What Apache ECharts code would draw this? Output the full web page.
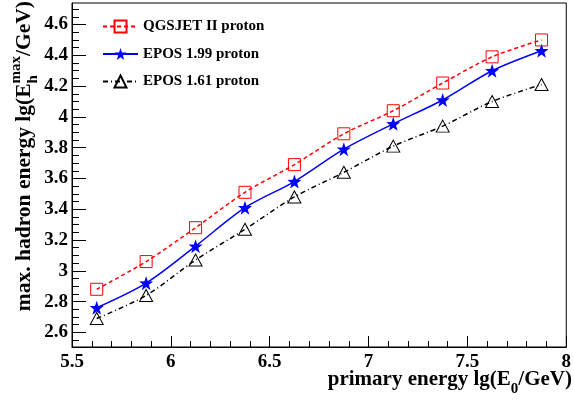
<!DOCTYPE html>
<html>
<head>
<meta charset="utf-8">
<script src="https://cdn.jsdelivr.net/npm/echarts@6/dist/echarts.min.js"></script>
<style>
  html, body { margin: 0; padding: 0; background: #fff; }
  #chart { width: 574px; height: 400px; }
</style>
</head>
<body>
<div id="chart"></div>
<script>
// primary energy lg(E0/GeV), bin centres
var energy = [5.625, 5.875, 6.125, 6.375, 6.625, 6.875, 7.125, 7.375, 7.625, 7.875];
// max. hadron energy lg(Eh_max/GeV)
var qgsjet = [2.88, 3.06, 3.28, 3.51, 3.69, 3.89, 4.04, 4.22, 4.39, 4.50];
var epos199 = [2.76, 2.92, 3.16, 3.41, 3.58, 3.79, 3.955, 4.11, 4.30, 4.43];
var epos161 = [2.69, 2.84, 3.07, 3.27, 3.48, 3.64, 3.81, 3.94, 4.10, 4.21];
var seriesNames = ['QGSJET II proton', 'EPOS 1.99 proton', 'EPOS 1.61 proton'];
var yTicks = [2.6, 2.8, 3, 3.2, 3.4, 3.6, 3.8, 4, 4.2, 4.4, 4.6];

var yMinor = [];
for (var k = 51; k <= 94; k++) {
  if (k % 4 !== 0) yMinor.push(k * 0.05);
}

var FONT = '"Liberation Serif", "Times New Roman", serif';
var STAR = 'path://M0,-10L2.35,-3.24L9.51,-3.09L3.8,1.24L5.88,8.09L0,4L-5.88,8.09L-3.8,1.24L-9.51,-3.09L-2.35,-3.24Z';

function pairs(ys) {
  return energy.map(function (x, i) { return [x, ys[i]]; });
}

// lay out a title with sub/superscripts, measured with a canvas
var ctx = document.createElement('canvas').getContext('2d');
function textWidth(t, size) {
  ctx.font = 'bold ' + size + 'px ' + FONT;
  return ctx.measureText(t).width;
}
function titleParts(parts) {
  var x = 0, kids = [], stackW = 0;
  parts.forEach(function (p) {
    var w = textWidth(p.t, p.s);
    kids.push({
      type: 'text', x: x, y: (p.dy || 0) - 0.3 * p.s,
      style: { text: p.t, fill: '#000', fontFamily: FONT, fontWeight: 'bold', fontSize: p.s,
               align: 'left', verticalAlign: 'middle' }
    });
    if (p.stack) { stackW = w; }
    else { x += Math.max(w, stackW); stackW = 0; }
  });
  return { children: kids, width: x };
}

var xTitle = titleParts([
  { t: 'primary energy lg(E', s: 21 },
  { t: '0', s: 15, dy: 8 },
  { t: '/GeV)', s: 21 }
]);
var yTitle = titleParts([
  { t: 'max. hadron energy lg(E', s: 21.5 },
  { t: 'max', s: 15, dy: -10, stack: true },
  { t: 'h', s: 15, dy: 7 },
  { t: '/GeV)', s: 21.5 }
]);

var chart = echarts.init(document.getElementById('chart'));

var axisFont = { color: '#000', fontFamily: FONT, fontWeight: 'bold', fontSize: 19 };

chart.setOption({
  animation: false,
  backgroundColor: '#fff',
  grid: { left: 72, right: 2, top: 3, bottom: 53, show: true, borderColor: '#000', borderWidth: 1 },
  legend: {
    orient: 'vertical', left: 97, top: 14,
    itemWidth: 35, itemHeight: 15, itemGap: 12.5,
    textStyle: { color: '#000', fontFamily: FONT, fontWeight: 'bold', fontSize: 15 },
    data: seriesNames
  },
  xAxis: {
    type: 'value', min: 5.5, max: 8, interval: 0.5,
    axisLine: { lineStyle: { color: '#000', width: 1 } },
    axisTick: { inside: true, length: 11, lineStyle: { color: '#000' } },
    minorTick: { show: true, splitNumber: 5, length: 6, lineStyle: { color: '#000' } },
    splitLine: { show: false },
    axisLabel: Object.assign({ margin: 6 }, axisFont)
  },
  yAxis: [{
    type: 'value', min: 2.505, max: 4.74,
    axisLine: { lineStyle: { color: '#000', width: 1 } },
    axisTick: { inside: true, length: 14, customValues: yTicks, lineStyle: { color: '#000' } },
    axisLabel: Object.assign({ margin: 4, customValues: yTicks }, axisFont),
    splitLine: { show: false }
  }, {
    type: 'value', min: 2.505, max: 4.74, position: 'left',
    axisLine: { show: false },
    axisTick: { inside: true, length: 7, customValues: yMinor, lineStyle: { color: '#000' } },
    axisLabel: { show: false },
    splitLine: { show: false }
  }],
  series: [{
    name: seriesNames[0], type: 'line', data: pairs(qgsjet), smooth: 0.3,
    symbol: 'rect', symbolSize: 12,
    lineStyle: { color: '#ff0000', width: 1.5, type: [4, 3] },
    itemStyle: { color: 'rgba(255,255,255,0)', borderColor: '#ff0000', borderWidth: 1 }
  }, {
    name: seriesNames[1], type: 'line', data: pairs(epos199), smooth: 0.3,
    symbol: STAR, symbolSize: 14,
    lineStyle: { color: '#0000ff', width: 1.5 },
    itemStyle: { color: '#0000ff' }
  }, {
    name: seriesNames[2], type: 'line', data: pairs(epos161), smooth: 0.3,
    symbol: 'triangle', symbolSize: [13, 12],
    lineStyle: { color: '#000', width: 1.5, type: [5, 3, 1, 3] },
    itemStyle: { color: 'rgba(255,255,255,0)', borderColor: '#000', borderWidth: 1 }
  }],
  graphic: [{
    type: 'group', x: 572 - xTitle.width, y: 386,
    children: xTitle.children
  }, {
    type: 'group', x: 31, y: 1 + yTitle.width, rotation: Math.PI / 2,
    children: yTitle.children
  }]
});
</script>
</body>
</html>
